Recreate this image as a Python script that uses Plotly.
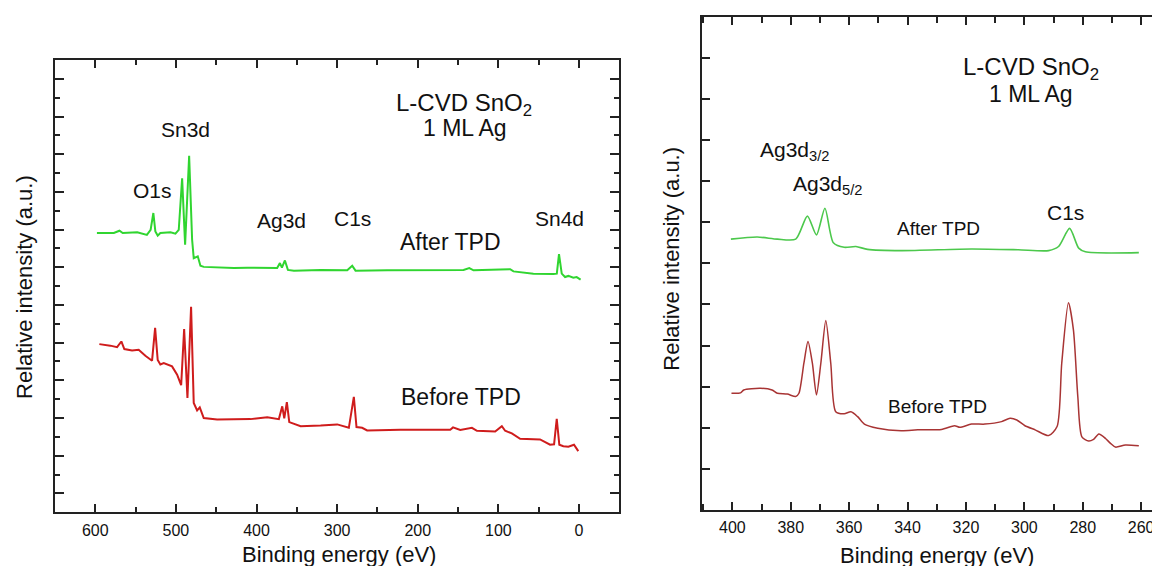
import plotly.graph_objects as go

# page is 1160x566; the html body adds an 8 px margin, so the figure is 8 px smaller
PAGE_OFF = 8
W, H = 1160 - PAGE_OFF, 566 - PAGE_OFF

# ---------------- data: survey spectra (left panel) ----------------
survey_after_be = [598, 577, 570, 566, 548, 536, 531.4, 528, 525.5, 522.6, 519.3, 506.8, 500.6, 496.5,
                   492.3, 488.6, 483.6, 479.9, 477.9, 472.9, 469.6, 465.5, 428, 411.5, 374.4, 371, 368.5,
                   364.8, 361.1, 353.6, 320.5, 287.5, 281.3, 277.2, 238, 196.8, 143.2, 136.1, 130.8, 97.8,
                   85.4, 81.3, 56.6, 31.8, 27.5, 24.8, 21.4, 17.3, 13.2, 7, 2.9, -2]
survey_after_int = [7.41, 7.41, 7.47, 7.41, 7.43, 7.36, 7.49, 7.94, 7.45, 7.34, 7.41, 7.43, 7.39, 7.49,
                    8.86, 7.10, 9.46, 7.23, 6.74, 6.79, 6.54, 6.51, 6.48, 6.49, 6.48, 6.61, 6.49,
                    6.68, 6.43, 6.41, 6.43, 6.42, 6.54, 6.41, 6.42, 6.43, 6.43, 6.48, 6.42, 6.44,
                    6.45, 6.39, 6.33, 6.32, 6.33, 6.85, 6.33, 6.24, 6.27, 6.22, 6.24, 6.17]

survey_before_be = [595, 589.7, 581.4, 573, 567.7, 564, 554.4, 546.2, 537.9, 529.6, 525.8, 522.6, 519.3,
                    515.1, 504.8, 498.5, 493.5, 489.8, 485.7, 481.2, 477.9, 473.7, 470.4, 465.5, 448.9,
                    407.5, 386.7, 372.3, 368.1, 365.6, 362.4, 359.4, 353.7, 345.3, 320.5, 299.9, 285.5,
                    279.3, 276, 269, 262.8, 221.5, 159.7, 156.3, 147.3, 132.8, 126.6, 104, 95.7, 91.6,
                    83.3, 73, 48.3, 35.9, 30.9, 27.6, 24.4, 19.4, 13.2, 6.2, 0.9]
survey_before_int = [4.46, 4.45, 4.42, 4.38, 4.53, 4.33, 4.29, 4.31, 4.15, 4.02, 4.89, 4.04, 3.92,
                     3.96, 3.87, 3.65, 3.37, 4.86, 3.03, 5.45, 2.90, 2.70, 2.78, 2.50, 2.46,
                     2.47, 2.52, 2.47, 2.81, 2.49, 2.92, 2.39, 2.34, 2.28, 2.30, 2.33, 2.24,
                     3.06, 2.26, 2.24, 2.17, 2.19, 2.19, 2.25, 2.18, 2.24, 2.16, 2.14, 2.28, 2.16,
                     2.09, 1.95, 1.93, 1.79, 1.80, 2.48, 1.79, 1.75, 1.74, 1.79, 1.62]

# ---------------- data: Ag3d / C1s region (right panel) ----------------
detail_after_be = [400.5, 391.5, 384.6, 378.3, 374.3, 371.2, 368.3, 365.4, 361.7, 357.7, 353.7, 342.2,
                   318.1, 302.1, 291.7, 288.3, 284.5, 281.4, 279.1, 260.8]
detail_after_int = [6.59, 6.64, 6.59, 6.59, 7.15, 6.69, 7.34, 6.50, 6.39, 6.41, 6.34, 6.31,
                    6.35, 6.33, 6.31, 6.41, 6.85, 6.37, 6.28, 6.26]

detail_before_be = [400.3, 397.2, 396.1, 390.4, 386.4, 384.6, 381.2, 378.3, 377.2, 375.5, 374.1, 372.6,
                    371.2, 369.7, 368, 366.3, 364.6, 361.7, 359.4, 357.1, 354.8, 350.2, 342.2, 336.5,
                    328.4, 323.9, 322.1, 318.1, 313.5, 307.8, 304.9, 302.6, 299.8, 296.3, 291.7, 288.8,
                    287.2, 284.9, 283.2, 281.7, 280.3, 278, 276.3, 274.5, 272.2, 270.5, 268.8, 265.4, 260.8]
detail_before_int = [2.84, 2.85, 2.92, 2.96, 2.92, 2.84, 2.82, 2.76, 2.84, 3.57, 4.10, 3.57,
                     2.80, 3.57, 4.61, 3.57, 2.39, 2.34, 2.39, 2.27, 2.09, 1.99, 1.93, 1.95,
                     1.96, 2.05, 2.01, 2.09, 2.09, 2.15, 2.23, 2.19, 2.05, 1.95, 1.81, 2.03,
                     3.57, 5.04, 4.38, 2.76, 1.78, 1.68, 1.72, 1.85, 1.74, 1.62, 1.53, 1.58, 1.56]

survey_ticks = [600, 500, 400, 300, 200, 100, 0]
detail_ticks = [400, 380, 360, 340, 320, 300, 280, 260]

FONT = "Liberation Sans, Arial, sans-serif"
TXT = "#111111"
AX = "#222222"

fig = go.Figure()
fig.add_trace(go.Scatter(x=survey_after_be, y=survey_after_int, mode="lines",
                         line=dict(color="#30d530", width=2), xaxis="x", yaxis="y"))
fig.add_trace(go.Scatter(x=survey_before_be, y=survey_before_int, mode="lines",
                         line=dict(color="#cf1c1c", width=2), xaxis="x", yaxis="y"))
fig.add_trace(go.Scatter(x=detail_after_be, y=detail_after_int, mode="lines",
                         line=dict(color="#4cc84c", width=1.6, shape="spline", smoothing=0.7),
                         xaxis="x2", yaxis="y2"))
fig.add_trace(go.Scatter(x=detail_before_be, y=detail_before_int, mode="lines",
                         line=dict(color="#a83434", width=1.5, shape="spline", smoothing=0.7),
                         xaxis="x2", yaxis="y2"))


def dom_x(a, b):
    return [max(0.0, (a - PAGE_OFF) / W), min(1.0, (b - PAGE_OFF) / W)]


def dom_y(top, bottom):
    return [max(0.0, (H - (bottom - PAGE_OFF)) / H), min(1.0, (H - (top - PAGE_OFF)) / H)]


common = dict(showgrid=False, zeroline=False, showline=True, linecolor=AX, linewidth=2,
              ticks="inside", tickcolor=AX, tickwidth=1.5)

fig.update_layout(
    width=W, height=H, margin=dict(l=0, r=0, t=0, b=0),
    paper_bgcolor="white", plot_bgcolor="white", showlegend=False,
    font=dict(family=FONT, color=TXT),
    xaxis=dict(domain=dom_x(55, 619.3), range=[650, -50], tickmode="array", tickvals=survey_ticks,
               ticklen=8, mirror="ticks", anchor="y", ticklabelstandoff=3,
               minor=dict(dtick=50, tick0=0, ticklen=5, ticks="inside", tickcolor=AX, tickwidth=1.5),
               tickfont=dict(size=16, color=TXT), **common),
    yaxis=dict(domain=dom_y(60, 512.2), range=[0, 12], tick0=0.5, dtick=1, ticklen=9,
               showticklabels=False, mirror="ticks", anchor="x",
               minor=dict(dtick=0.5, tick0=0, ticklen=5, ticks="inside", tickcolor=AX, tickwidth=1.5),
               **common),
    xaxis2=dict(domain=dom_x(701.7, 1160), range=[410.5, 253.55], tickmode="array",
                tickvals=detail_ticks, ticklen=8, mirror="ticks", anchor="y2", ticklabelstandoff=2,
                minor=dict(dtick=10, tick0=0, ticklen=6, ticks="inside", tickcolor=AX, tickwidth=1.5),
                tickfont=dict(size=16, color=TXT), **common),
    yaxis2=dict(domain=dom_y(16.7, 510), range=[0, 12], tick0=0, dtick=1, ticklen=8,
                showticklabels=False, mirror=False, anchor="x2", **common),
)

anns = []


def ann(text, px, py, size, angle=0):
    anns.append(dict(text=text, x=(px - PAGE_OFF) / W, y=1 - (py - PAGE_OFF) / H,
                     xref="paper", yref="paper",
                     xanchor="center", yanchor="middle", showarrow=False, textangle=angle,
                     font=dict(family=FONT, size=size, color=TXT)))


# left panel
ann("L-CVD SnO<sub>2</sub>", 464, 104, 24)
ann("1 ML Ag", 464.5, 128, 23)
ann("Sn3d", 185.5, 129, 21)
ann("O1s", 152, 191, 21)
ann("Ag3d", 281, 220, 21)
ann("C1s", 352.5, 219, 21)
ann("Sn4d", 559.7, 218.3, 21)
ann("After TPD", 450.8, 241.7, 23)
ann("Before TPD", 460.8, 397.3, 23)
ann("Relative intensity (a.u.)", 24, 287, 22, -90)
ann("Binding energy (eV)", 338.7, 554, 22)

# right panel
ann("L-CVD SnO<sub>2</sub>", 1031, 68.5, 24)
ann("1 ML Ag", 1031, 94, 23)
ann("Ag3d<sub>3/2</sub>", 794.5, 151, 21)
ann("Ag3d<sub>5/2</sub>", 827.5, 185, 21)
ann("After TPD", 938, 228.7, 19)
ann("C1s", 1065.5, 212.3, 21)
ann("Before TPD", 937.3, 406.7, 19)
ann("Relative intensity (a.u.)", 671.7, 259, 22, -90)
ann("Binding energy (eV)", 937, 555, 22)

fig.update_layout(annotations=anns)
fig.write_html("out.html")
